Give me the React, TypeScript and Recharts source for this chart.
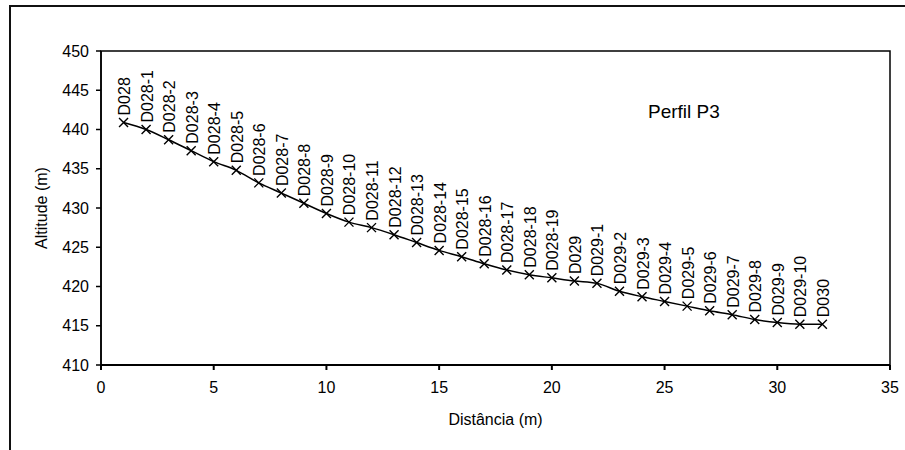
import {
  LabelList,
  Line,
  LineChart,
  ReferenceArea,
  XAxis,
  YAxis,
} from 'recharts'

const PONTOS = [
  'D028', 'D028-1', 'D028-2', 'D028-3', 'D028-4', 'D028-5', 'D028-6', 'D028-7',
  'D028-8', 'D028-9', 'D028-10', 'D028-11', 'D028-12', 'D028-13', 'D028-14',
  'D028-15', 'D028-16', 'D028-17', 'D028-18', 'D028-19', 'D029', 'D029-1',
  'D029-2', 'D029-3', 'D029-4', 'D029-5', 'D029-6', 'D029-7', 'D029-8',
  'D029-9', 'D029-10', 'D030',
]

const DISTANCIA = [
  1, 2, 3, 4, 5, 6, 7, 8, 9, 10, 11, 12, 13, 14, 15, 16,
  17, 18, 19, 20, 21, 22, 23, 24, 25, 26, 27, 28, 29, 30, 31, 32,
]

const ALTITUDE = [
  440.9, 440.0, 438.7, 437.3, 435.9, 434.8, 433.2, 431.9,
  430.6, 429.3, 428.2, 427.5, 426.6, 425.6, 424.6, 423.8,
  422.9, 422.1, 421.5, 421.1, 420.7, 420.4, 419.4, 418.7,
  418.1, 417.5, 416.9, 416.4, 415.8, 415.4, 415.2, 415.2,
]

const TICKS_X = [0, 5, 10, 15, 20, 25, 30, 35]
const TICKS_Y = [410, 415, 420, 425, 430, 435, 440, 445, 450]

const dados = PONTOS.map((nome, i) => ({
  nome,
  dist: DISTANCIA[i],
  alt: ALTITUDE[i],
}))

const FONTE = '"Liberation Sans", Arial, sans-serif'

// marcador em X, como no Excel
function Cruz(props: { cx?: number; cy?: number; index?: number }) {
  const { cx = 0, cy = 0, index } = props
  const s = 4.5
  return (
    <path
      key={`cruz-${index}`}
      d={`M${cx - s},${cy - s}L${cx + s},${cy + s}M${cx - s},${cy + s}L${cx + s},${cy - s}`}
      stroke="#000"
      strokeWidth={1.4}
      fill="none"
    />
  )
}

function Rotulo(props: { x?: number | string; y?: number | string; value?: unknown }) {
  const x = Number(props.x ?? 0)
  const y = Number(props.y ?? 0)
  return (
    <text
      transform={`translate(${x + 1},${y - 7}) rotate(-90)`}
      x={0}
      y={0}
      dominantBaseline="central"
      textAnchor="start"
      fontSize={16}
      fontFamily={FONTE}
      fill="#000"
    >
      {String(props.value ?? '')}
    </text>
  )
}

export default function App() {
  return (
    <div
      style={{
        position: 'absolute',
        left: 0,
        top: 0,
        width: 905,
        height: 450,
        overflow: 'hidden',
        background: '#fff',
        fontFamily: FONTE,
      }}
    >
      <div
        style={{
          position: 'absolute',
          left: 9,
          top: 5,
          width: 1200,
          height: 1200,
          border: '2px solid #111',
        }}
      />
      <div style={{ position: 'absolute', left: 0, top: 0 }}>
        <LineChart
          width={905}
          height={450}
          data={dados}
          margin={{ top: 51, right: 15, bottom: 45, left: 41 }}
        >
          <ReferenceArea
            x1={0}
            x2={35}
            y1={410}
            y2={450}
            fill="none"
            stroke="#000"
            strokeWidth={1.5}
            fillOpacity={0}
          />
          <XAxis
            dataKey="dist"
            type="number"
            domain={[0, 35]}
            ticks={TICKS_X}
            height={40}
            tickSize={5}
            tickMargin={12}
            stroke="#000"
            strokeWidth={2}
            tick={{ fill: '#000', fontSize: 16, fontFamily: FONTE }}
            label={{
              value: 'Distância (m)',
              position: 'bottom',
              offset: 9,
              fill: '#000',
              fontSize: 16,
              fontFamily: FONTE,
            }}
          />
          <YAxis
            type="number"
            domain={[410, 450]}
            ticks={TICKS_Y}
            width={60}
            tickSize={5}
            tickMargin={7}
            stroke="#000"
            strokeWidth={1.5}
            tick={{ fill: '#000', fontSize: 16, fontFamily: FONTE }}
            label={{
              value: 'Altitude (m)',
              angle: -90,
              position: 'insideLeft',
              offset: 0,
              fill: '#000',
              fontSize: 16,
              fontFamily: FONTE,
              style: { textAnchor: 'middle' },
            }}
          />
          <Line
            dataKey="alt"
            type="monotone"
            stroke="#000"
            strokeWidth={1.5}
            dot={(p: any) => <Cruz key={`c-${p.index}`} cx={p.cx} cy={p.cy} index={p.index} />}
            activeDot={false}
            isAnimationActive={false}
          >
            <LabelList dataKey="nome" content={(p: any) => <Rotulo {...p} />} />
          </Line>
        </LineChart>
      </div>
      <svg
        width={905}
        height={450}
        style={{ position: 'absolute', left: 0, top: 0, pointerEvents: 'none' }}
      >
        <text x={648} y={118} fontSize={19} fontFamily={FONTE} fill="#000">
          Perfil P3
        </text>
      </svg>
    </div>
  )
}
